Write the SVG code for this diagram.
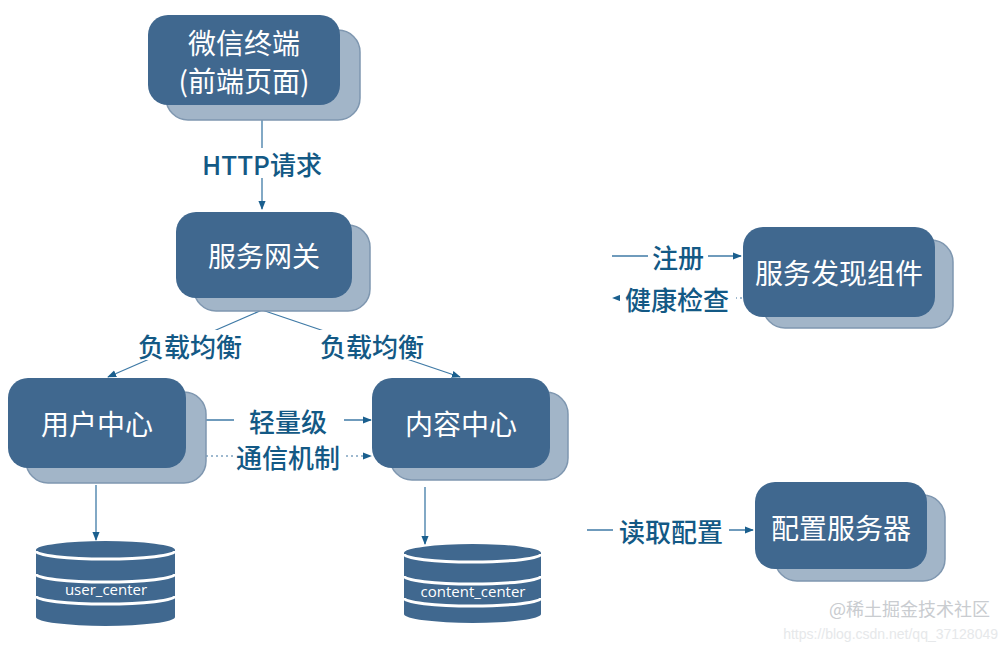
<svg xmlns="http://www.w3.org/2000/svg" width="1008" height="645" viewBox="0 0 1008 645">
<defs>
<marker id="ar" viewBox="0 0 10 10" refX="9" refY="5" markerWidth="7" markerHeight="7" orient="auto-start-reverse"><path d="M0,1 L10,5 L0,9 z" fill="#1a5f8e"/></marker>
<style>
.sh{fill:#a2b5c8;stroke:#7f97b0;stroke-width:1.5}
.fr{fill:#40688f}
.nt{font-family:"Noto Sans CJK SC","Liberation Sans",sans-serif;font-size:28px;fill:#fff;text-anchor:middle;dominant-baseline:central}
.lb{font-family:"Noto Sans CJK SC","Liberation Sans",sans-serif;font-size:26px;fill:#135985;text-anchor:middle;dominant-baseline:central;font-weight:500}
.ln{stroke:#3f7aa6;stroke-width:1.3;fill:none}
.dt{stroke:#7fa3c0;stroke-width:1.3;fill:none;stroke-dasharray:2 3}
.db{fill:#40688f}
.dl{stroke:#fff;stroke-width:3;fill:none}
.dbt{font-family:"Open Sans","Liberation Sans",sans-serif;font-size:15px;fill:#fff;text-anchor:middle}
</style>
</defs>
<rect width="1008" height="645" fill="#fff"/>
<g id="connectors">
<line class="ln" x1="262" y1="118" x2="262" y2="209" marker-end="url(#ar)"/>
<rect x="195" y="148" width="134" height="30" fill="#fff"/>
<text class="lb" x="262" y="163">HTTP请求</text>
<path class="ln" d="M262,310 L108,377" marker-end="url(#ar)"/>
<path class="ln" d="M262,310 L460,377" marker-end="url(#ar)"/>
<rect x="130" y="330" width="118" height="30" fill="#fff"/>
<rect x="314" y="330" width="118" height="30" fill="#fff"/>
<text class="lb" x="190" y="345">负载均衡</text>
<text class="lb" x="372" y="345">负载均衡</text>
<line class="ln" x1="206" y1="420" x2="371" y2="420" marker-end="url(#ar)"/>
<line class="dt" x1="206" y1="456" x2="371" y2="456" marker-end="url(#ar)"/>
<rect x="234" y="404" width="110" height="68" fill="#fff"/>
<text class="lb" x="288" y="420">轻量级</text>
<text class="lb" x="288" y="456">通信机制</text>
<line class="ln" x1="96" y1="485" x2="96" y2="540" marker-end="url(#ar)"/>
<line class="ln" x1="425" y1="487" x2="425" y2="544" marker-end="url(#ar)"/>
<line class="ln" x1="612" y1="256" x2="741" y2="256" marker-end="url(#ar)"/>
<line class="dt" x1="742" y1="298" x2="613" y2="298" marker-end="url(#ar)"/>
<rect x="648" y="240" width="60" height="32" fill="#fff"/>
<rect x="620" y="282" width="116" height="32" fill="#fff"/>
<text class="lb" x="678" y="256">注册</text>
<text class="lb" x="677" y="298">健康检查</text>
<line class="ln" x1="587" y1="530" x2="753" y2="530" marker-end="url(#ar)"/>
<rect x="613" y="514" width="116" height="32" fill="#fff"/>
<text class="lb" x="671" y="530">读取配置</text>
</g>
<g id="wechat"><rect class="sh" x="166" y="30" width="194" height="90" rx="22"/><rect class="fr" x="148" y="15" width="192" height="90" rx="20"/><text class="nt" x="244" y="42">微信终端</text><text class="nt" x="244" y="80">(前端页面)</text></g>
<g id="gateway"><rect class="sh" x="194" y="225" width="176" height="86" rx="22"/><rect class="fr" x="176" y="212" width="176" height="86" rx="20"/><text class="nt" x="264" y="255">服务网关</text></g>
<g id="user"><rect class="sh" x="26" y="392" width="180" height="91" rx="22"/><rect class="fr" x="8" y="378" width="178" height="90" rx="20"/><text class="nt" x="97" y="423">用户中心</text></g>
<g id="content"><rect class="sh" x="390" y="392" width="178" height="88" rx="22"/><rect class="fr" x="372" y="378" width="178" height="90" rx="20"/><text class="nt" x="461" y="423">内容中心</text></g>
<g id="discovery"><rect class="sh" x="763" y="240" width="190" height="88" rx="22"/><rect class="fr" x="743" y="227" width="192" height="90" rx="20"/><text class="nt" x="839" y="272">服务发现组件</text></g>
<g id="config"><rect class="sh" x="775" y="495" width="170" height="86" rx="22"/><rect class="fr" x="755" y="482" width="172" height="87" rx="20"/><text class="nt" x="841" y="527">配置服务器</text></g>
<g id="db_user">
<path class="db" d="M36,550 A69.5,9 0 0 1 175,550 L175,617 A69.5,9 0 0 1 36,617 Z"/>
<path class="dl" d="M36,551 A69.5,8 0 0 0 175,551"/>
<path class="dl" d="M36,574 A69.5,8 0 0 0 175,574"/>
<path class="dl" d="M36,596 A69.5,8 0 0 0 175,596"/>
<text class="dbt" x="106" y="595">user_center</text>
</g>
<g id="db_content">
<path class="db" d="M404,553 A68.5,9 0 0 1 541,553 L541,614 A68.5,9 0 0 1 404,614 Z"/>
<path class="dl" d="M404,554 A68.5,8 0 0 0 541,554"/>
<path class="dl" d="M404,576 A68.5,8 0 0 0 541,576"/>
<path class="dl" d="M404,598 A68.5,8 0 0 0 541,598"/>
<text class="dbt" x="473" y="597">content_center</text>
</g>
<text x="990" y="616" font-family="Noto Sans CJK SC,Liberation Sans,sans-serif" font-size="18" fill="#c9ccd0" text-anchor="end">@稀土掘金技术社区</text>
<text x="998" y="639" font-family="Liberation Sans,sans-serif" font-size="14" fill="#e6e8ea" text-anchor="end">https://blog.csdn.net/qq_37128049</text>
</svg>
